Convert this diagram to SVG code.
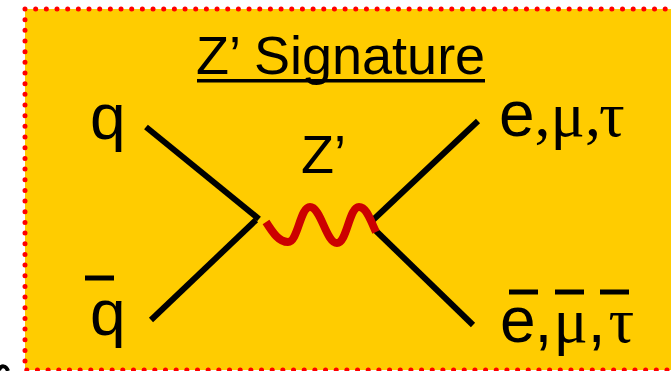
<svg xmlns="http://www.w3.org/2000/svg" width="671" height="371" viewBox="0 0 671 371">
<style>
.a{font-family:"Liberation Sans",Arial,sans-serif;fill:#000}
.s{font-family:"Liberation Serif","Times New Roman",serif;fill:#000}
.l{stroke:#000;stroke-width:6;fill:none}
.b{stroke:#000;stroke-width:5;fill:none}
</style>
<rect x="25" y="9" width="660" height="361" fill="#ffcc00"/>
<path d="M25 9H671M25 9V370H671" fill="none" stroke="#ff0000" stroke-width="5" stroke-linecap="round" stroke-dasharray="0 10.67"/>
<path d="M-1 370C1 365 6 365 8 371" fill="none" stroke="#000" stroke-width="4"/>
<g id="title"><text class="a" x="196" y="74" font-size="54">Z’ Signature</text><rect x="197" y="79" width="288" height="3.5" fill="#000"/></g>
<g id="q"><text class="a" x="90" y="139" font-size="64">q</text></g>
<g id="qbar"><text class="a" x="90" y="335" font-size="64">q</text><path class="b" d="M85 278H114"/></g>
<g id="zlabel"><text class="a" x="301" y="173" font-size="54">Z’</text></g>
<g id="leptons"><text x="499" y="136"><tspan class="a" font-size="64">e</tspan><tspan class="s" font-size="64">,μ,</tspan><tspan class="s" font-size="64" dx="-2">τ</tspan></text></g>
<g id="antileptons"><text x="500" y="342"><tspan class="a" font-size="64">e</tspan><tspan class="a" font-size="64" dx="-1">,</tspan><tspan class="s" font-size="64" dx="1">μ</tspan><tspan class="a" font-size="64">,</tspan><tspan class="s" font-size="64" dx="3">τ</tspan></text><path class="b" d="M509 292H538M555 292H584M600 292H629"/></g>
<g id="connectors">
<path class="l" d="M146 127L259 219"/>
<path class="l" d="M151 320L256 220"/>
<path class="l" d="M478 121L373 220"/>
<path class="l" d="M373 228L473 325"/>
<path d="M266 222C273 233 279 242 288 242C298 242 300 207 310 207C321 207 326 243 337 243C347 243 349 207 359 207C367 207 371 222 376 232" fill="none" stroke="#cc0000" stroke-width="8"/>
</g>
</svg>
